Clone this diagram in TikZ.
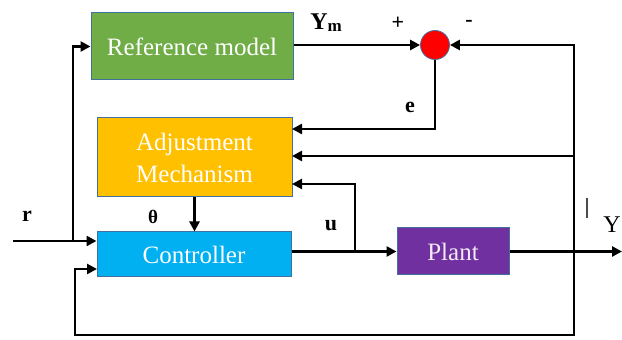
\documentclass[tikz,border=0pt]{standalone}
\usepackage{fontspec}
\setmainfont{Liberation Serif}
\usetikzlibrary{arrows.meta}
\definecolor{gbox}{HTML}{70AD47}
\definecolor{obox}{HTML}{FFC000}
\definecolor{bbox}{HTML}{00B0F0}
\definecolor{pbox}{HTML}{7030A0}
\definecolor{edge}{HTML}{41719C}
\tikzset{
  blk/.style={draw=edge, line width=0.5pt, inner sep=0pt, text=white, font=\fontsize{12.5}{15}\selectfont, align=center},
  arr/.style={line width=1.4pt, -{Triangle[length=5pt,width=5pt]}},
  lbl/.style={font=\bfseries\fontsize{11}{13}\selectfont, inner sep=0pt}
}
\begin{document}
\begin{tikzpicture}[x=0.5pt,y=-0.5pt]
\useasboundingbox (0,0) rectangle (622,340);
% blocks
\node[blk, fill=gbox, minimum width=101pt, minimum height=33.5pt] (ref) at (192,46.5) {Reference model};
\node[blk, fill=obox, minimum width=97.5pt, minimum height=39.5pt] (adj) at (194.5,157.5) {Adjustment\\[1pt]Mechanism};
\node[blk, fill=bbox, minimum width=97pt, minimum height=22.5pt] (ctrl) at (194,254.5) {Controller};
\node[blk, fill=pbox, minimum width=56pt, minimum height=23.5pt, text=white!90!pbox] (plant) at (453,251.5) {Plant};
\node[circle, fill=red, draw=edge, line width=0.4pt, minimum size=14.5pt, inner sep=0pt] (sum) at (435,45) {};
% helper coordinates
\coordinate (rin) at (13,241);
\coordinate (rj) at (73,241);
\coordinate (a1) at (292,129);
\coordinate (a2) at (292,156);
\coordinate (a3) at (292,184);
\coordinate (yb) at (574,156);
\coordinate (yj) at (574,251.5);
\coordinate (uj) at (355,251.5);
\coordinate (fb) at (75,335);
\coordinate (cin) at (97,269);
\coordinate (yout) at (622,251.5);
% connectors
\draw[arr] (sum.west -| ref.east) -- (sum.west);
\draw[arr] (yj) |- (sum.east);
\draw[arr] (sum.south) |- (a1);
\draw[arr] (yb) -- (a2);
\draw[arr] (uj) |- (a3);
\draw[arr] (adj.south) -- (adj.south |- ctrl.north);
\draw[arr] (rin) -- (ctrl.west |- rin);
\draw[arr] (rj) |- (ref.west);
\draw[arr] (ctrl.east |- plant.west) -- (plant.west);
\draw[arr] (plant.east) -- (yout);
\draw[arr] (yj) |- (fb) |- (cin);
% stray mark
\draw[line width=0.6pt, black!70] (587,198) -- (587,218);
% labels
\node[lbl, font=\bfseries\fontsize{12}{14}\selectfont] (lym) at (326,23) {Y\raisebox{-1pt}{\fontsize{8.5}{9}\selectfont m}};
\node[lbl, font=\bfseries\fontsize{11}{12}\selectfont] (lp) at (398,23) {+};
\node[lbl, font=\bfseries\fontsize{11}{12}\selectfont] (lm) at (469,23) {-};
\node[lbl] (le) at (410,107) {e};
\node[lbl, font=\bfseries\fontsize{9.5}{10}\selectfont] (lth) at (153,217) {θ};
\node[lbl] (lr) at (27,216) {r};
\node[lbl] (lu) at (331,226) {u};
\node[lbl, font=\fontsize{12}{14}\selectfont] (ly) at (612,225) {Y};
\end{tikzpicture}
\end{document}
